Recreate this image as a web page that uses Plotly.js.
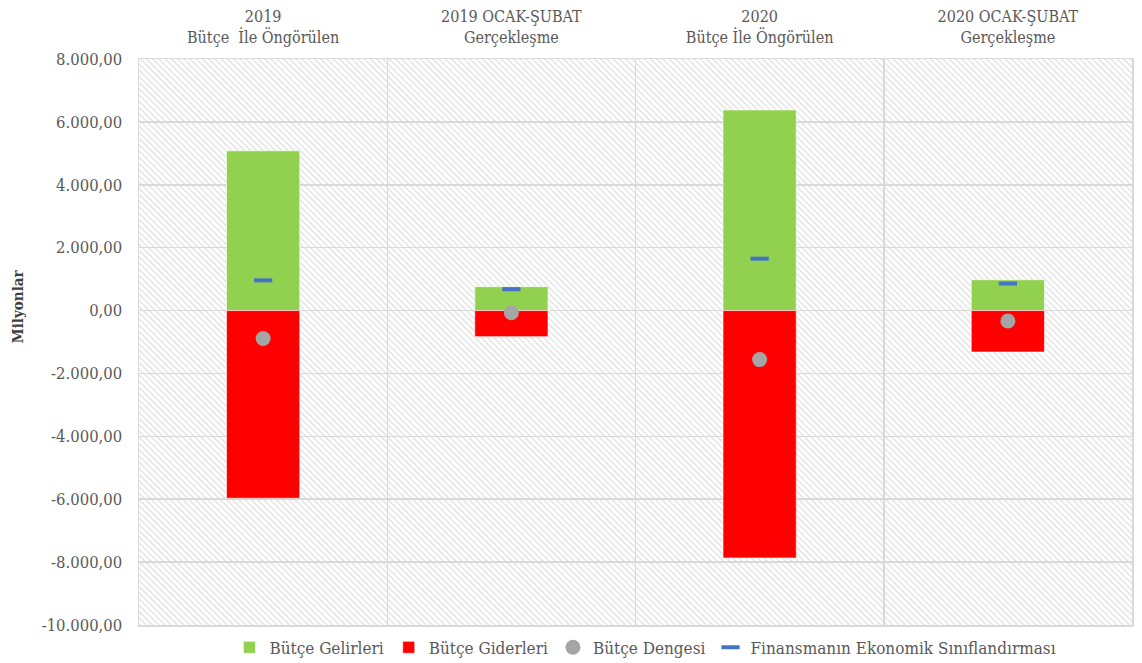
<!DOCTYPE html>
<html>
<head>
<meta charset="utf-8">
<script src="https://cdn.plot.ly/plotly-3.0.1.min.js"></script>
<style>html,body{margin:0;padding:0;background:#fff;}#chart{width:1142px;height:663px;}</style>
</head>
<body>
<div id="chart"></div>
<script>
// Data
const categories = [
  "2019<br>Bütçe  İle Öngörülen",
  "2019 OCAK-ŞUBAT<br>Gerçekleşme",
  "2020<br>Bütçe İle Öngörülen",
  "2020 OCAK-ŞUBAT<br>Gerçekleşme"
];
const butceGelirleri = [5080, 760, 6380, 980];
const butceGiderleri = [-5970, -830, -7870, -1320];
const butceDengesi = [-890, -70, -1560, -330];
const finansman = [960, 680, 1650, 860];
const yTickVals = [8000, 6000, 4000, 2000, 0, -2000, -4000, -6000, -8000, -10000];
const yTickText = ["8.000,00", "6.000,00", "4.000,00", "2.000,00", "0,00", "-2.000,00", "-4.000,00", "-6.000,00", "-8.000,00", "-10.000,00"];

const FONT = "'DejaVu Serif Condensed', 'Liberation Serif', serif";
const GRID = "#d9d9d9";

const hatchSvg = "<svg xmlns='http://www.w3.org/2000/svg' width='993' height='566'>" +
  "<defs><pattern id='p' width='4.4' height='4.4' patternUnits='userSpaceOnUse' patternTransform='rotate(-45)'>" +
  "<rect width='4.4' height='4.4' fill='#ffffff'/>" +
  "<line x1='1' y1='0' x2='1' y2='4.4' stroke='#e0e0e0' stroke-width='1.3'/></pattern></defs>" +
  "<rect width='993' height='566' fill='url(#p)'/></svg>";
const hatchUri = "data:image/svg+xml;charset=utf-8," + encodeURIComponent(hatchSvg);

const traces = [
  {
    type: "bar", name: "Bütçe Gelirleri", x: categories, y: butceGelirleri,
    width: 0.295, marker: {color: "#92D050", line: {color: "rgba(255,255,255,0.6)", width: 1}}
  },
  {
    type: "bar", name: "Bütçe Giderleri", x: categories, y: butceGiderleri,
    width: 0.295, marker: {color: "#FF0000", line: {color: "rgba(255,255,255,0.6)", width: 1}}
  },
  {
    type: "scatter", mode: "markers", name: "Bütçe Dengesi", x: categories, y: butceDengesi,
    marker: {color: "#A5A5A5", size: 15, symbol: "circle"}
  },
  {
    type: "scatter", mode: "markers", name: "Finansmanın Ekonomik Sınıflandırması", x: categories, y: finansman,
    marker: {color: "#4472C4", size: 13, symbol: "line-ew-open", line: {color: "#4472C4", width: 4}}
  }
];

const layout = {
  width: 1142, height: 663,
  margin: {l: 139, r: 10, t: 59, b: 38, autoexpand: false},
  paper_bgcolor: "#ffffff",
  plot_bgcolor: "rgba(0,0,0,0)",
  barmode: "relative",
  showlegend: true,
  font: {family: FONT, color: "#595959", size: 15},
  xaxis: {
    type: "category", side: "top", tickson: "boundaries",
    showgrid: true, gridcolor: GRID, gridwidth: 1.5,
    showline: true, linecolor: GRID, linewidth: 1.5, mirror: true,
    ticks: "", ticklen: 0, ticklabelstandoff: 8,
    tickfont: {family: FONT, size: 16, color: "#595959"},
    zeroline: false, fixedrange: true, automargin: false
  },
  yaxis: {
    range: [-10000, 8000],
    tickvals: yTickVals, ticktext: yTickText,
    showgrid: true, gridcolor: GRID, gridwidth: 1.5,
    showline: true, linecolor: GRID, linewidth: 1.5, mirror: true,
    zeroline: false, ticks: "", ticklabelstandoff: 12,
    tickfont: {family: FONT, size: 16.5, color: "#595959"},
    fixedrange: true, automargin: false
  },
  legend: {
    orientation: "h", x: 0.51, xanchor: "center",
    yref: "container", y: 0.023, yanchor: "middle",
    font: {family: FONT, size: 17, color: "#595959"},
    itemwidth: 30, tracegroupgap: 0, bgcolor: "rgba(0,0,0,0)"
  },
  images: [{
    source: hatchUri, xref: "paper", yref: "paper", x: 0, y: 1, sizex: 1, sizey: 1,
    xanchor: "left", yanchor: "top", sizing: "stretch", layer: "below"
  }],
  annotations: [{
    text: "<b>Milyonlar</b>", textangle: -90, xref: "paper", yref: "paper",
    x: -0.122, y: 0.563, xanchor: "center", yanchor: "middle", showarrow: false,
    font: {family: FONT, size: 15, color: "#404040"}
  }]
};

Plotly.newPlot("chart", traces, layout, {displayModeBar: false, staticPlot: true});
</script>
</body>
</html>
